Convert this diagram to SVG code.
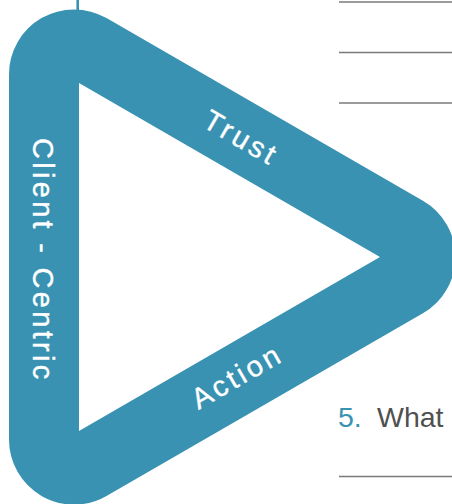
<svg xmlns="http://www.w3.org/2000/svg" width="452" height="504" viewBox="0 0 452 504">
  <style>
    .band { fill: #3992b2; fill-rule: evenodd; }
    .band-label { font-family: "Liberation Sans", Arial, sans-serif; font-size: 29px; letter-spacing: 3.3px; fill: #ffffff; stroke: #ffffff; stroke-width: 0.35; }
    .rule { stroke: #7a7a7a; stroke-width: 1.4; fill: none; }
    .q-num { font-family: "Liberation Sans", Arial, sans-serif; font-size: 28.5px; fill: #3992b2; }
    .q-text { font-family: "Liberation Sans", Arial, sans-serif; font-size: 28.5px; fill: #505050; }
  </style>

  <!-- rounded triangular band with a sharp triangular cut-out -->
  <g id="triangle">
    <line x1="77.7" y1="0" x2="77.7" y2="14" stroke="#3992b2" stroke-width="2.6"/>
    <path class="band" d="M 9 439.6 L 9 74.4 A 65 65 0 0 1 106.5 18.1 L 422.9 200.7 A 65 65 0 0 1 422.9 313.3 L 106.5 495.9 A 65 65 0 0 1 9 439.6 Z M 79 83 L 380 257 L 79 431 Z"/>
  </g>

  <!-- labels running along each side of the band -->
  <g id="label-trust">
    <text class="band-label" transform="translate(201 126) rotate(30)">Trust</text>
  </g>
  <g id="label-action">
    <text class="band-label" transform="translate(198.5 410) rotate(-30)">Action</text>
  </g>
  <g id="label-client-centric">
    <text class="band-label" transform="translate(33 138) rotate(90)">Client - Centric</text>
  </g>

  <!-- answer lines and question heading -->
  <g id="answer-lines">
    <line class="rule" x1="339" y1="2" x2="452" y2="2"/>
    <line class="rule" x1="339" y1="52.5" x2="452" y2="52.5"/>
    <line class="rule" x1="339" y1="103" x2="452" y2="103"/>
    <line class="rule" x1="339" y1="476.5" x2="452" y2="476.5"/>
  </g>
  <g id="question-5">
    <text class="q-num" x="338" y="427">5.</text>
    <text class="q-text" x="377" y="427">What</text>
  </g>
</svg>
